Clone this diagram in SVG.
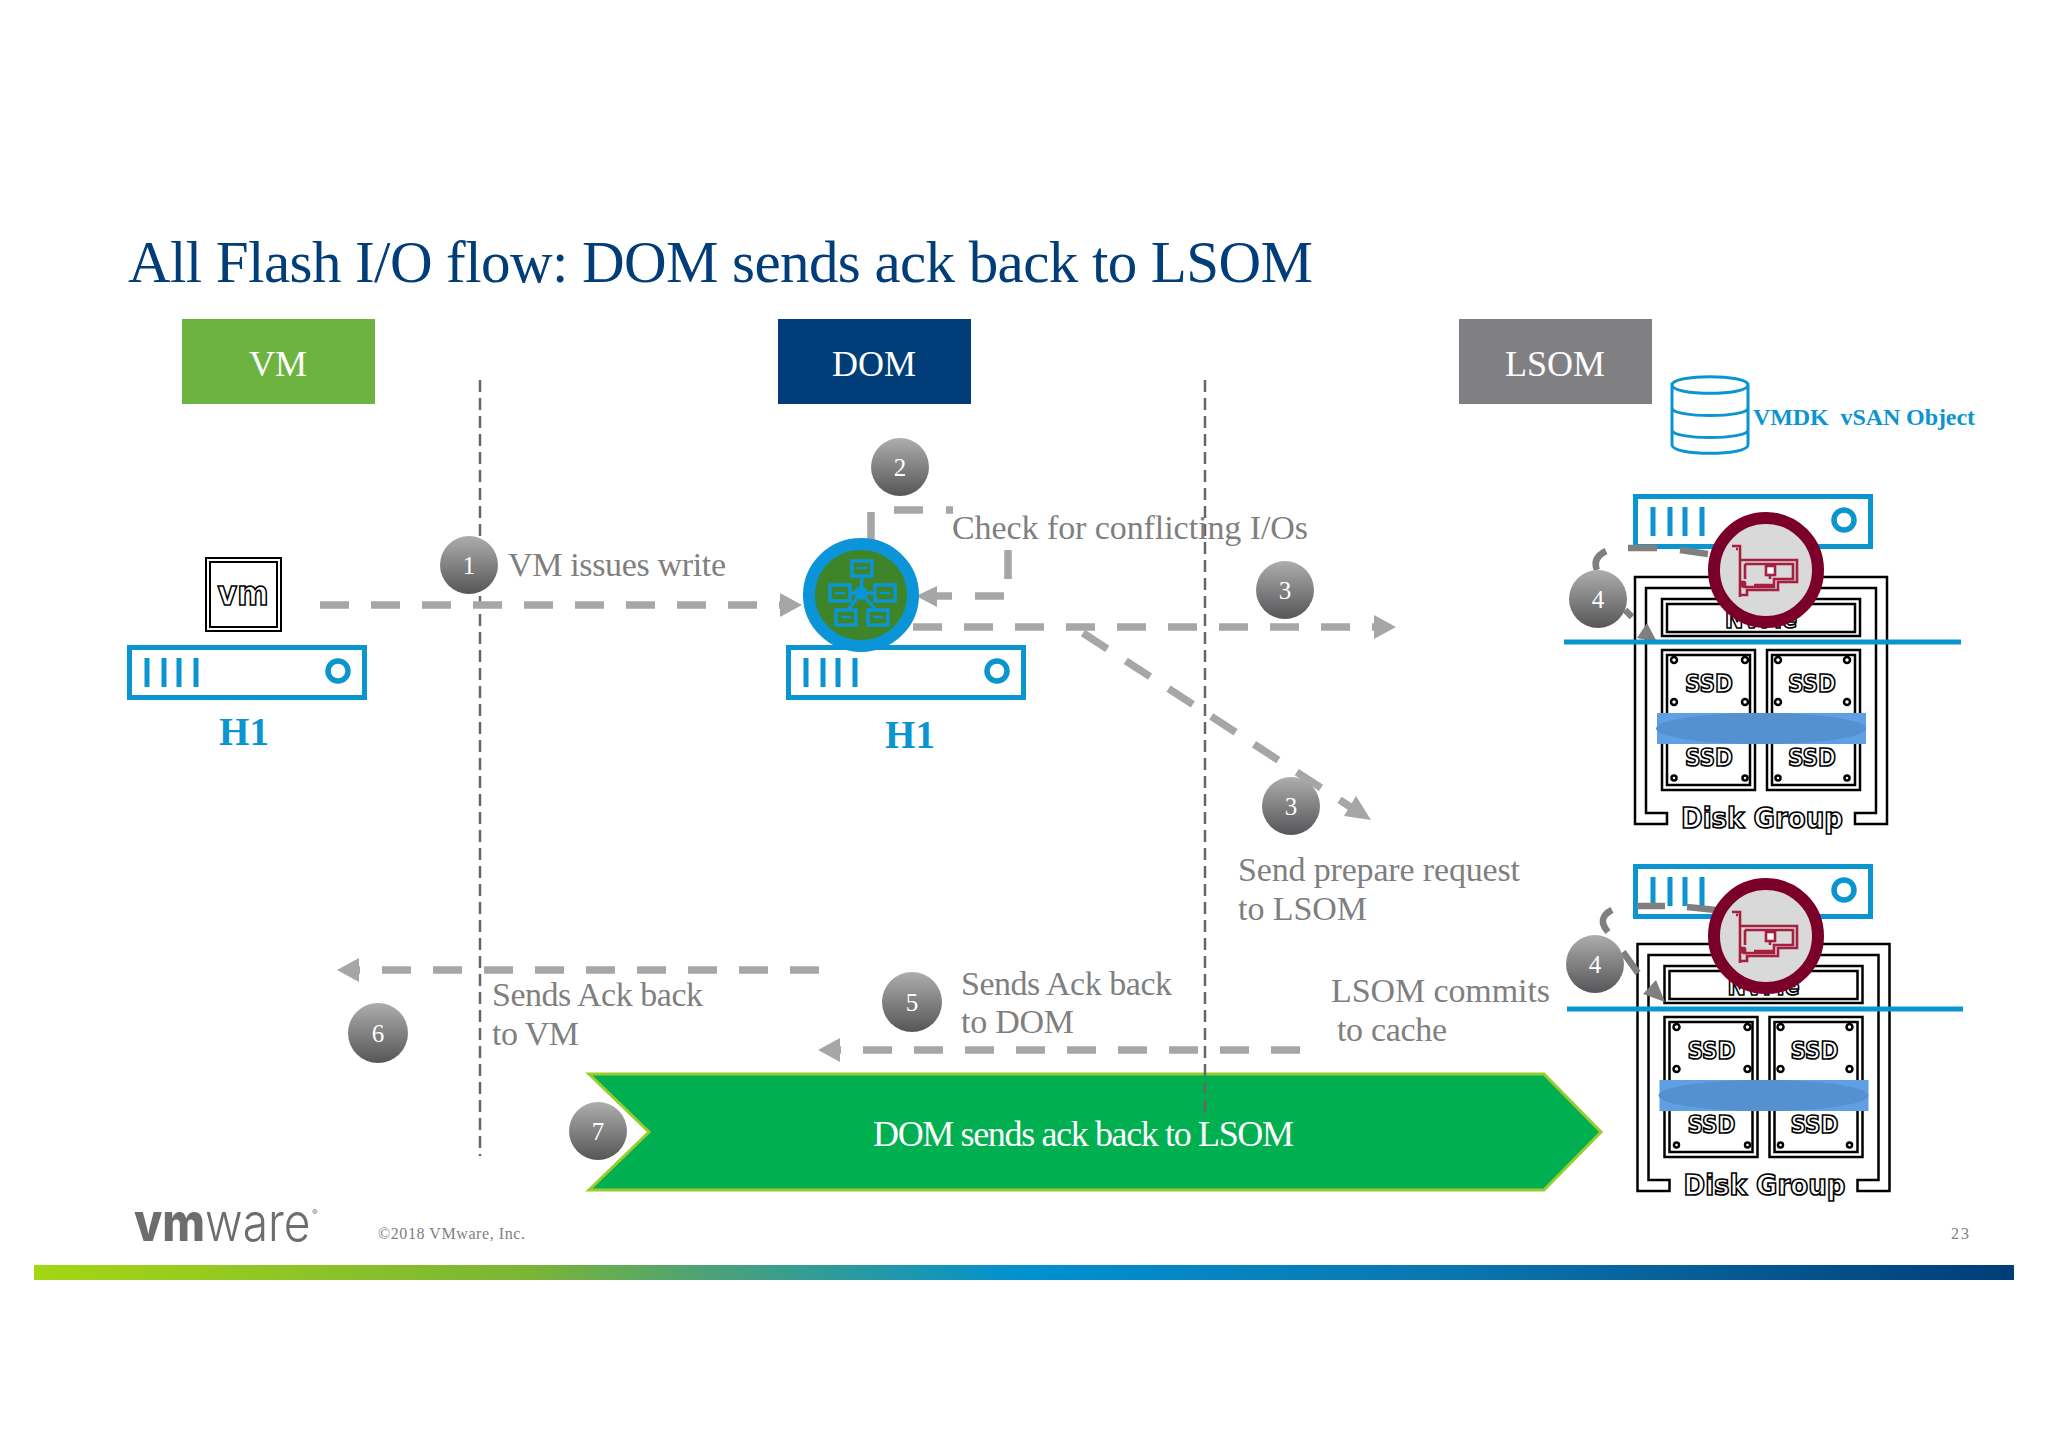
<svg xmlns="http://www.w3.org/2000/svg" xmlns:xlink="http://www.w3.org/1999/xlink" width="2048" height="1447" viewBox="0 0 2048 1447">
<style>
.t{font-family:"Liberation Serif","Times New Roman",serif;fill:#7f7f7f;font-size:34px}
.w{font-family:"Liberation Serif",serif;fill:#fff;font-size:36px}
.n{font-family:"Liberation Serif",serif;fill:#fff;font-size:25px;text-anchor:middle}
.h{font-family:"Liberation Serif",serif;fill:#0b95d0;font-size:39px;font-weight:bold;text-anchor:middle}
.o{font-family:"DejaVu Sans","Open Sans",sans-serif;font-weight:700;fill:#fff;stroke:#000;stroke-width:1.7;text-anchor:middle}
.f{font-family:Inter,"Liberation Sans",sans-serif;fill:#6d6d6f}
.d{fill:none;stroke:#a6a6a6;stroke-width:7.5;stroke-dasharray:29 22}
.v{fill:none;stroke:#666;stroke-width:2.5;stroke-dasharray:12 6}
.g{fill:none;stroke:#7f7f7f;stroke-width:6.5}
.b{fill:none;stroke:#0b95d0}
.k{fill:none;stroke:#000;stroke-width:2.5}
.m{fill:none;stroke:#a51f41;stroke-width:2.6}
</style>
<defs>
<linearGradient id="ball" x1="0" y1="0" x2="0" y2="1"><stop offset="0" stop-color="#adadad"/><stop offset="1" stop-color="#565658"/></linearGradient>
<linearGradient id="bar" x1="0" y1="0" x2="1" y2="0"><stop offset="0" stop-color="#a4d614"/><stop offset="0.25" stop-color="#7bb535"/><stop offset="0.34" stop-color="#4ca277"/><stop offset="0.5" stop-color="#0091d0"/><stop offset="0.72" stop-color="#0a76ae"/><stop offset="1" stop-color="#003d79"/></linearGradient>
<marker id="ah" markerUnits="userSpaceOnUse" markerWidth="24" markerHeight="26" refX="0" refY="12" orient="auto"><path d="M0,0 L22,12 L0,24 Z" fill="#a6a6a6"/></marker>
<g id="server">
<rect x="2.5" y="2.5" width="235" height="50" fill="#fff" stroke="#0b95d0" stroke-width="5"/>
<path d="M20,13V42M37,13V42M52,13V42M69,13V42" class="b" stroke-width="5"/>
<circle cx="211" cy="26" r="10" class="b" stroke-width="5.5"/>
</g>
<g id="nic">
<circle r="52" fill="#d9d9d9" stroke="#7b0029" stroke-width="12"/>
<path class="m" d="M-34,-24H-26V27M-30,-21H-28M-26,-10H31V12H12V20H-19V25H-26M-21,-6H27V9H8V17H-22V12H-26"/>
<path class="m" d="M-21,-6V9M4,-6V9M-24,13h3v3h-3zM-12,15H8"/>
<rect x="0" y="-4" width="9" height="9" fill="#fff" stroke="#a51f41" stroke-width="2.6"/>
</g>
<g id="ssdbox">
<rect x="0" y="0" width="93" height="140" class="k"/>
<rect x="5" y="5" width="83" height="130" class="k"/>
</g>
<g id="disk">
<path class="k" d="M1667,813V824H1635V577H1887V824H1855V813H1876V588H1646V813Z"/>
<text class="o" x="1761" y="628" font-size="24" textLength="72" lengthAdjust="spacingAndGlyphs">NVMe</text>
<rect x="1662" y="599" width="198" height="37" class="k"/>
<rect x="1667" y="604" width="188" height="28" class="k"/>
<use xlink:href="#ssdbox" href="#ssdbox" x="1662" y="650"/>
<use xlink:href="#ssdbox" href="#ssdbox" x="1767" y="650"/>
<g fill="#fff" stroke="#000" stroke-width="2.5">
<circle cx="1674" cy="660" r="3"/><circle cx="1745" cy="660" r="3"/><circle cx="1674" cy="702" r="3"/><circle cx="1745" cy="702" r="3"/>
<circle cx="1778" cy="660" r="3"/><circle cx="1847" cy="660" r="3"/><circle cx="1778" cy="702" r="3"/><circle cx="1847" cy="702" r="3"/>
<circle cx="1674" cy="778" r="2.5"/><circle cx="1745" cy="778" r="2.5"/><circle cx="1778" cy="778" r="2.5"/><circle cx="1847" cy="778" r="2.5"/>
</g>
<text class="o" x="1709" y="692" font-size="24" textLength="48" lengthAdjust="spacingAndGlyphs">SSD</text><text class="o" x="1812" y="692" font-size="24" textLength="48" lengthAdjust="spacingAndGlyphs">SSD</text>
<text class="o" x="1709" y="766" font-size="24" textLength="48" lengthAdjust="spacingAndGlyphs">SSD</text><text class="o" x="1812" y="766" font-size="24" textLength="48" lengthAdjust="spacingAndGlyphs">SSD</text>
<rect x="1657" y="713" width="209" height="31" fill="#5f9fe3"/>
<ellipse cx="1761" cy="728.5" rx="105" ry="15.5" fill="#5590d0"/>
<text class="o" x="1762" y="828" font-size="28" textLength="162" lengthAdjust="spacingAndGlyphs">Disk Group</text>
</g>
</defs>
<rect width="2048" height="1447" fill="#fff"/>

<text id="title" x="128" y="282" font-family="Liberation Serif, serif" font-size="59" fill="#003d79" textLength="1185" lengthAdjust="spacing">All Flash I/O flow: DOM sends ack back to LSOM</text>

<g id="vm-header"><rect x="182" y="319" width="193" height="85" fill="#6db33f"/><text class="w" x="278" y="376" text-anchor="middle">VM</text></g>
<g id="dom-header"><rect x="778" y="319" width="193" height="85" fill="#003d79"/><text class="w" x="874" y="376" text-anchor="middle">DOM</text></g>
<g id="lsom-header"><rect x="1459" y="319" width="193" height="85" fill="#808083"/><text class="w" x="1555" y="376" text-anchor="middle">LSOM</text></g>

<g id="vsan-object">
<path class="b" stroke-width="3" d="M1672,385C1672,374 1748,374 1748,385V445C1748,456 1672,456 1672,445ZM1672,385C1672,396 1748,396 1748,385M1672,408C1672,418 1748,418 1748,408M1672,430C1672,440 1748,440 1748,430"/>
<text x="1753" y="425" font-family="Liberation Serif, serif" font-weight="bold" font-size="24" fill="#0b95d0" textLength="222" lengthAdjust="spacing">VMDK&#160; vSAN Object</text>
</g>

<g id="green-banner">
<polygon points="589,1074 1544,1074 1601,1132 1544,1190 589,1190 649,1132" fill="#00b050" stroke="#9acb2f" stroke-width="3"/>
<text class="w" x="873" y="1146" font-size="33" textLength="421" lengthAdjust="spacing">DOM sends ack back to LSOM</text>
</g>

<g id="vm-h1">
<rect x="206" y="558" width="75" height="73" fill="#fff" stroke="#000" stroke-width="2"/>
<rect x="210" y="562" width="67" height="65" fill="#fff" stroke="#000" stroke-width="2"/>
<text class="o" x="243" y="605" font-size="34" stroke-width="1.5" textLength="51" lengthAdjust="spacingAndGlyphs">vm</text>
<use xlink:href="#server" href="#server" x="127" y="645"/>
<text class="h" x="244" y="745">H1</text>
</g>

<g id="connectors" transform="translate(0,1)">
<path class="v" d="M480,379V1155"/>
<path class="v" d="M1205,379V1115"/>
<path class="d" d="M320,604H780" marker-end="url(#ah)"/>
<path class="d" stroke-dasharray="none" d="M871,540V507"/>
<path class="d" stroke-dasharray="none" d="M894,509H923M946,509H953M1008,549V578M1004,595H975M952,595H937"/>
<path d="M916,595L937,585V606Z" fill="#a6a6a6"/>
<path class="d" d="M913,626H1374" marker-end="url(#ah)"/>
<path class="d" d="M1083,632L1352,807"/>
<path d="M1371,819L1344,815L1356,795Z" fill="#a6a6a6"/>
<path class="d" d="M819,969H359" marker-end="url(#ah)"/>
<path class="d" d="M1300,1049H840" marker-end="url(#ah)"/>
</g>

<g id="dom-h1">
<use xlink:href="#server" href="#server" x="786" y="645"/>
<ellipse cx="861" cy="595" rx="52" ry="51" fill="#3e8529" stroke="#0b95d8" stroke-width="12"/>
<g fill="none" stroke="#0b95d8" stroke-width="3.4">
<path d="M861,593L862,576M861,593L850,593M861,593L875,593M861,593L848,610M861,593L876,610"/>
<circle cx="861" cy="593" r="5" fill="#0b95d8"/>
<rect x="852" y="561" width="20" height="15"/><rect x="830" y="585" width="20" height="16"/><rect x="875" y="585" width="20" height="16"/><rect x="836" y="610" width="20" height="15"/><rect x="868" y="610" width="20" height="15"/>
<path stroke-width="2.4" d="M857,568H867M835,593H845M880,593H890M841,617H851M873,617H883"/>
</g>
<text class="h" x="910" y="748">H1</text>
</g>

<g id="lsom-stack-1">
<use xlink:href="#server" href="#server" x="1633" y="494"/>
<use xlink:href="#disk" href="#disk"/>
<path d="M1647,623L1637,638L1657,642Z" fill="#7f7f7f"/>
<path d="M1564,642H1961" class="b" stroke-width="5"/>
<path class="g" d="M1628,548H1657M1680,550L1708,554M1606,551Q1592,558 1597,570M1625,610L1632,617"/>
<use xlink:href="#nic" href="#nic" x="1766" y="570"/>
</g>

<g id="lsom-stack-2">
<use xlink:href="#server" href="#server" x="1633" y="864"/>
<use xlink:href="#disk" href="#disk" x="2.5" y="367"/>
<path d="M1656,980L1643,994L1665,1002Z" fill="#7f7f7f"/>
<path d="M1567,1009H1963" class="b" stroke-width="5"/>
<path class="g" d="M1637,906H1665M1687,907L1716,910M1612,910Q1596,918 1608,932M1623,952L1638,973"/>
<use xlink:href="#nic" href="#nic" x="1766" y="936"/>
</g>

<g id="step-1"><circle cx="469" cy="565" r="29" fill="url(#ball)"/><text class="n" x="469" y="574">1</text></g>
<g id="step-2"><circle cx="900" cy="467" r="29" fill="url(#ball)"/><text class="n" x="900" y="476">2</text></g>
<g id="step-3a"><circle cx="1285" cy="590" r="29" fill="url(#ball)"/><text class="n" x="1285" y="599">3</text></g>
<g id="step-3b"><circle cx="1291" cy="806" r="29" fill="url(#ball)"/><text class="n" x="1291" y="815">3</text></g>
<g id="step-4a"><circle cx="1598" cy="599" r="29" fill="url(#ball)"/><text class="n" x="1598" y="608">4</text></g>
<g id="step-4b"><circle cx="1595" cy="964" r="29" fill="url(#ball)"/><text class="n" x="1595" y="973">4</text></g>
<g id="step-5"><circle cx="912" cy="1002" r="30" fill="url(#ball)"/><text class="n" x="912" y="1011">5</text></g>
<g id="step-6"><circle cx="378" cy="1033" r="30" fill="url(#ball)"/><text class="n" x="378" y="1042">6</text></g>
<g id="step-7"><circle cx="598" cy="1131" r="29" fill="url(#ball)"/><text class="n" x="598" y="1140">7</text></g>

<g id="labels">
<text class="t" x="508" y="576" textLength="218" lengthAdjust="spacing">VM issues write</text>
<text class="t" x="952" y="539" textLength="356" lengthAdjust="spacing">Check for conflicting I/Os</text>
<text class="t" x="1238" y="881" textLength="282" lengthAdjust="spacing">Send prepare request</text>
<text class="t" x="1238" y="920" textLength="129" lengthAdjust="spacing">to LSOM</text>
<text class="t" x="492" y="1006" textLength="211" lengthAdjust="spacing">Sends Ack back</text>
<text class="t" x="492" y="1045" textLength="87" lengthAdjust="spacing">to VM</text>
<text class="t" x="961" y="995" textLength="211" lengthAdjust="spacing">Sends Ack back</text>
<text class="t" x="961" y="1033" textLength="113" lengthAdjust="spacing">to DOM</text>
<text class="t" x="1331" y="1002" textLength="219" lengthAdjust="spacing">LSOM commits</text>
<text class="t" x="1337" y="1041" textLength="110" lengthAdjust="spacing">to cache</text>
</g>

<g id="footer">
<text class="f" transform="translate(134,1241) scale(0.87,1)" font-size="53"><tspan font-weight="800">vm</tspan><tspan font-weight="300">ware</tspan></text>
<text class="f" x="312" y="1215" font-size="8">®</text>
<text x="378" y="1239" font-family="Liberation Serif, serif" font-size="16" fill="#808080" textLength="147" lengthAdjust="spacing">©2018 VMware, Inc.</text>
<text x="1951" y="1239" font-family="Liberation Serif, serif" font-size="16" fill="#808080" textLength="18" lengthAdjust="spacing">23</text>
<rect x="34" y="1265" width="1980" height="15" fill="url(#bar)"/>
</g>
</svg>
